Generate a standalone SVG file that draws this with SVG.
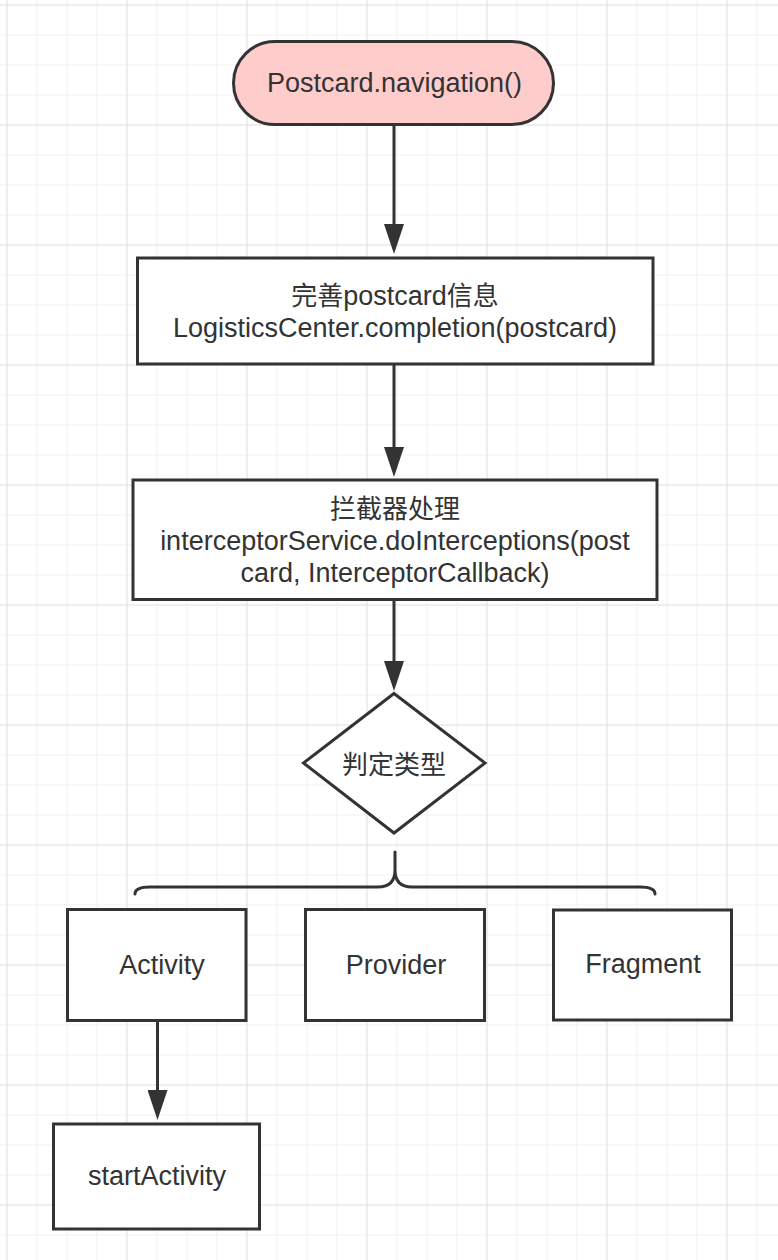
<svg xmlns="http://www.w3.org/2000/svg" width="778" height="1260" viewBox="0 0 778 1260">
<defs>
<pattern id="gMinor" patternUnits="userSpaceOnUse" x="6.5" y="4.5" width="30" height="30"><rect width="30" height="1" fill="#f0f0f0"/><rect width="1" height="30" fill="#f0f0f0"/></pattern>
<pattern id="gMajor" patternUnits="userSpaceOnUse" x="6.5" y="4.5" width="120" height="120"><rect width="120" height="1" fill="#e3e3e3"/><rect width="1" height="120" fill="#e3e3e3"/></pattern>
<marker id="arrow" markerUnits="userSpaceOnUse" viewBox="0 0 30 20" refX="20" refY="10" markerWidth="30" markerHeight="20" orient="auto"><path d="M0,0 L30,10 L0,20 Z" fill="#333333"/></marker>
</defs>
<style>
.node{fill:#ffffff;stroke:#333333;stroke-width:3}
.start{fill:#ffcccc}
text{font-family:"Liberation Sans","Noto Sans CJK SC",sans-serif;font-size:27px;fill:#333333;text-anchor:middle}
.cjk{font-family:"Noto Sans CJK SC",sans-serif;font-size:26px}
.edge{fill:none;stroke:#333333;stroke-width:3}
.brace{fill:none;stroke:#333333;stroke-width:3;stroke-linecap:round;stroke-linejoin:round}
</style>
<rect width="778" height="1260" fill="#ffffff"/>
<rect width="778" height="1260" fill="url(#gMinor)"/>
<rect width="778" height="1260" fill="url(#gMajor)"/>

<g id="connectors">
<path class="edge" d="M394,124 L394,244" marker-end="url(#arrow)"/>
<path class="edge" d="M394,364 L394,467" marker-end="url(#arrow)"/>
<path class="edge" d="M394,600 L394,681" marker-end="url(#arrow)"/>
<path class="edge" d="M157.5,1021 L157.5,1110" marker-end="url(#arrow)"/>
<path class="brace" d="M135,894 Q135,887 150,887 L378,887 Q395,887 395,870 L395,852 M395,870 Q395,887 412,887 L640,887 Q655,887 655,894"/>
</g>

<g id="start">
<rect class="node start" x="233.5" y="41.5" width="320" height="83" rx="41.5" ry="41.5"/>
<text x="394.5" y="92">Postcard.navigation()</text>
</g>

<g id="completion">
<rect class="node" x="137.5" y="258" width="515.5" height="106"/>
<text x="395" y="305"><tspan class="cjk">完善</tspan>postcard<tspan class="cjk">信息</tspan></text>
<text x="395" y="337">LogisticsCenter.completion(postcard)</text>
</g>

<g id="interceptor">
<rect class="node" x="133" y="480" width="524" height="119.5"/>
<text x="395" y="518" class="cjk">拦截器处理</text>
<text x="395" y="550">interceptorService.doInterceptions(post</text>
<text x="395" y="582">card, InterceptorCallback)</text>
</g>

<g id="decision">
<path class="node" d="M394,693.5 L485,763 L394,833 L303.5,763 Z"/>
<text x="394" y="774" class="cjk">判定类型</text>
</g>

<g id="activity">
<rect class="node" x="67.5" y="909.5" width="178.5" height="111"/>
<text x="162" y="974">Activity</text>
</g>

<g id="provider">
<rect class="node" x="305.5" y="909.5" width="179" height="111"/>
<text x="396" y="974">Provider</text>
</g>

<g id="fragment">
<rect class="node" x="553.5" y="910" width="178" height="110"/>
<text x="643" y="973">Fragment</text>
</g>

<g id="startActivity">
<rect class="node" x="53.5" y="1124" width="206" height="105"/>
<text x="157" y="1185">startActivity</text>
</g>
</svg>
